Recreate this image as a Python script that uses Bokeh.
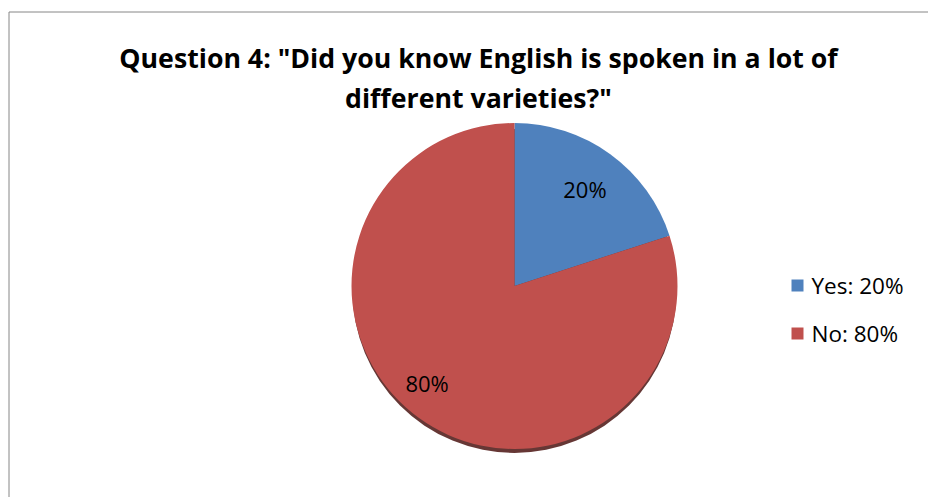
import math
from bokeh.plotting import figure
from bokeh.models import Range1d, ColumnDataSource
from bokeh.core.properties import value
from bokeh.embed import file_html
from bokeh.resources import INLINE

# ---- data ----
title_lines = ['Question 4: "Did you know English is spoken in a lot of', 'different varieties?"']
categories = ["Yes", "No"]
shares = [20, 80]
colors = ["#4F81BD", "#C0504D"]

W, H = 928, 497
p = figure(width=W, height=H, output_backend="svg", toolbar_location=None,
           x_range=Range1d(0, W), y_range=Range1d(0, H), min_border=0)
p.axis.visible = False
p.grid.visible = False
p.outline_line_color = None
p.background_fill_color = "white"
p.border_fill_color = "white"

# chart frame (left and top edges; the rest lies outside the window)
fl, ft = 8.5, H - 11.5
p.multi_line(xs=[[fl, fl], [fl, W + 20]], ys=[[-20, ft], [ft, ft]],
             line_color="#868686", line_width=1)

cx, cy, R = 514, H - 285.5, 163

# pie shadow
p.ellipse(x=[cx], y=[cy - 5], width=2 * R - 2, height=2 * R - 2,
          fill_color="#55211f", line_color=None, alpha=0.9)

total = sum(shares)
starts, ends, mids = [], [], []
a = math.pi / 2
for s in shares:
    sweep = 2 * math.pi * s / total
    starts.append(a)
    ends.append(a - sweep)
    mids.append(a - sweep / 2)
    a -= sweep

src = ColumnDataSource(dict(cat=categories, start=starts, end=ends, color=colors))
p.wedge(x=cx, y=cy, radius=R, start_angle="start", end_angle="end", direction="clock",
        fill_color="color", line_color=None, source=src)

# data labels
lab_r = 0.735 * R
lx = [cx + lab_r * math.cos(m) for m in mids]
ly = [cy + lab_r * math.sin(m) for m in mids]
lx[1] -= 17
p.text(x=lx, y=ly, text=[f"{s}%" for s in shares], text_align="center",
       text_baseline="middle", text_font=value("Open Sans"), text_font_size="22px",
       text_color="black")

# title
p.text(x=[478, 478], y=[H - 57, H - 97], text=title_lines, text_align="center",
       text_baseline="middle", text_font=value("Open Sans"), text_font_size="26.7px",
       text_font_style="bold", text_color="black")

# legend
leg_y = [H - 285, H - 333]
p.scatter(x=[797, 797], y=leg_y, marker="square", size=12, fill_color=colors, line_color=None)
p.text(x=[811, 811], y=leg_y, text=[f"{c}: {s}%" for c, s in zip(categories, shares)],
       text_align="left", text_baseline="middle", text_font=value("Open Sans"),
       text_font_size="22.5px", text_color="black")

open("out.html", "w").write(file_html(p, INLINE))
